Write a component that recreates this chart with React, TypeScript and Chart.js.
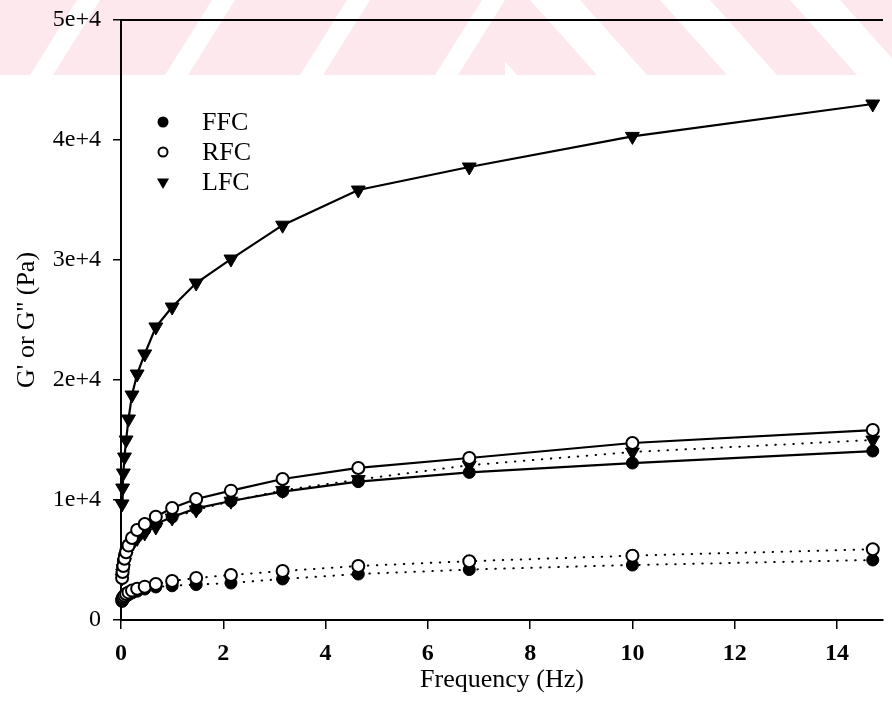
import React, { useEffect, useRef } from "react";
import { Chart, registerables } from "chart.js";

Chart.register(...registerables);

// Frequency sweep (Hz)
const freq = [0.0215, 0.0316, 0.0464, 0.0681, 0.1, 0.147, 0.215, 0.316, 0.464, 0.681, 1, 1.47, 2.15, 3.16, 4.64, 6.81, 10, 14.7];

// G' (storage modulus, solid lines)
const ffcG1 = [4000, 4400, 4900, 5400, 5900, 6300, 6650, 7000, 7500, 8000, 8580, 9300, 9920, 10700, 11530, 12300, 13080, 14080];
const rfcG1 = [3500, 4000, 4500, 5100, 5650, 6200, 6830, 7500, 8000, 8610, 9330, 10080, 10780, 11750, 12670, 13500, 14750, 15830];
const lfcG1 = [9670, 11000, 12250, 13580, 15000, 16750, 18750, 20500, 22170, 24420, 26080, 28080, 30080, 32900, 35830, 37750, 40300, 43000];

// G'' (loss modulus, dotted lines)
const ffcG2 = [1550, 1650, 1750, 1870, 1980, 2100, 2250, 2400, 2580, 2750, 2850, 2950, 3080, 3420, 3830, 4200, 4580, 5000];
const rfcG2 = [1650, 1780, 1900, 2030, 2170, 2300, 2450, 2600, 2780, 3000, 3250, 3500, 3750, 4080, 4500, 4900, 5360, 5900];
const lfcG2 = [3500, 3900, 4300, 4800, 5300, 5800, 6300, 6800, 7250, 7750, 8500, 9170, 9900, 10800, 11700, 12900, 14000, 15000];

const legendLabels = ["FFC", "RFC", "LFC"];
const xTickLabels = ["0", "2", "4", "6", "8", "10", "12", "14"];
const yTickLabels = ["0", "1e+4", "2e+4", "3e+4", "4e+4", "5e+4"];
const xTitle = "Frequency (Hz)";
const yTitle = "G' or G'' (Pa)";

const SERIF = "'Liberation Serif', 'Times New Roman', serif";

function pts(ys: number[]) {
  return freq.map((x, i) => ({ x, y: ys[i] }));
}

type Sample = "filled" | "open" | "tri";

function markerStyle(kind: Sample) {
  if (kind === "filled")
    return { pointStyle: "circle", pointRadius: 6, pointBackgroundColor: "#000", pointBorderColor: "#000", pointBorderWidth: 1, pointRotation: 0 };
  if (kind === "open")
    return { pointStyle: "circle", pointRadius: 6, pointBackgroundColor: "#fff", pointBorderColor: "#000", pointBorderWidth: 2, pointRotation: 0 };
  return { pointStyle: "triangle", pointRadius: 8, pointBackgroundColor: "#000", pointBorderColor: "#000", pointBorderWidth: 1, pointRotation: 180 };
}

function makeDs(label: string, ys: number[], kind: Sample, dotted: boolean) {
  return {
    label,
    data: pts(ys),
    borderColor: "#000",
    borderWidth: dotted ? 2 : 2.2,
    borderDash: dotted ? [0.5, 8.5] : [],
    borderCapStyle: dotted ? "round" : "butt",
    tension: 0,
    fill: false,
    clip: false,
    ...markerStyle(kind),
    pointHoverRadius: 6,
  };
}

function drawMarker(ctx: CanvasRenderingContext2D, kind: Sample, cx: number, cy: number) {
  ctx.beginPath();
  if (kind === "tri") {
    const r = 7;
    ctx.moveTo(cx - r * 0.866, cy - r * 0.5);
    ctx.lineTo(cx + r * 0.866, cy - r * 0.5);
    ctx.lineTo(cx, cy + r);
    ctx.closePath();
    ctx.fillStyle = "#000";
    ctx.fill();
  } else if (kind === "filled") {
    ctx.arc(cx, cy, 5.5, 0, Math.PI * 2);
    ctx.fillStyle = "#000";
    ctx.fill();
  } else {
    ctx.arc(cx, cy, 4.5, 0, Math.PI * 2);
    ctx.fillStyle = "#fff";
    ctx.fill();
    ctx.lineWidth = 2;
    ctx.strokeStyle = "#000";
    ctx.stroke();
  }
}

const stripePlugin = {
  id: "stripes",
  beforeDraw(chart: any) {
    const ctx = chart.ctx as CanvasRenderingContext2D;
    const h = 75;
    const split = 505;
    ctx.save();
    ctx.fillStyle = "#fde9ed";
    ctx.fillRect(0, 0, chart.width, h);
    ctx.fillStyle = "#ffffff";
    ctx.save();
    ctx.beginPath();
    ctx.rect(0, 0, split, h);
    ctx.clip();
    for (let k = -1; k < 5; k++) {
      const b = 30 + 135 * k;
      ctx.beginPath();
      ctx.moveTo(b, h);
      ctx.lineTo(b + 23, h);
      ctx.lineTo(b + 70, 0);
      ctx.lineTo(b + 47, 0);
      ctx.closePath();
      ctx.fill();
    }
    ctx.restore();
    ctx.save();
    ctx.beginPath();
    ctx.rect(split, 0, chart.width - split, h);
    ctx.clip();
    for (let k = -1; k < 5; k++) {
      const t = 530 + 130 * k;
      ctx.beginPath();
      ctx.moveTo(t, 0);
      ctx.lineTo(t + 50, 0);
      ctx.lineTo(t + 117, h);
      ctx.lineTo(t + 67, h);
      ctx.closePath();
      ctx.fill();
    }
    ctx.restore();
    ctx.restore();
  },
};

const framePlugin = {
  id: "frame",
  afterDraw(chart: any) {
    const ctx = chart.ctx as CanvasRenderingContext2D;
    const { left, right, top } = chart.chartArea;
    ctx.save();
    ctx.strokeStyle = "#000";
    ctx.lineWidth = 2;
    ctx.beginPath();
    ctx.moveTo(left, top);
    ctx.lineTo(right, top);
    ctx.stroke();
    // legend
    const kinds: Sample[] = ["filled", "open", "tri"];
    ctx.font = `26px ${SERIF}`;
    ctx.textBaseline = "middle";
    ctx.textAlign = "left";
    legendLabels.forEach((lab, i) => {
      const cy = top + 102 + i * 30;
      drawMarker(ctx, kinds[i], left + 42, cy);
      ctx.fillStyle = "#000";
      ctx.fillText(lab, left + 81, cy + 1);
    });
    ctx.restore();
  },
};

export default function App() {
  const ref = useRef<HTMLCanvasElement | null>(null);

  useEffect(() => {
    if (!ref.current) return;
    const chart = new Chart(ref.current, {
      type: "line",
      data: {
        datasets: [
          makeDs("RFC G'", rfcG1, "open", false),
          makeDs("RFC G''", rfcG2, "open", true),
          makeDs("LFC G''", lfcG2, "tri", true),
          makeDs("FFC G'", ffcG1, "filled", false),
          makeDs("FFC G''", ffcG2, "filled", true),
          makeDs("LFC G'", lfcG1, "tri", false),
        ] as any,
      },
      options: {
        responsive: false,
        animation: false,
        layout: { padding: { top: 20, right: 0, left: 0, bottom: 0 } },
        plugins: { legend: { display: false }, tooltip: { enabled: false } },
        scales: {
          x: {
            type: "linear",
            min: 0,
            max: 14.9,
            afterFit: (s: any) => {
              s.height = 104;
              s.paddingLeft = 0;
              s.paddingRight = 0;
            },
            ticks: {
              stepSize: 2,
              includeBounds: false,
              maxRotation: 0,
              autoSkip: false,
              padding: 10,
              color: "#000",
              font: { family: SERIF, size: 24, weight: "bold" },
              callback: (v: any) => xTickLabels[Math.round(Number(v) / 2)] ?? "",
            },
            grid: { display: true, drawOnChartArea: false, drawTicks: true, tickLength: 9, color: "#000", lineWidth: 1.5 },
            border: { display: true, color: "#000", width: 2 },
            title: {
              display: true,
              text: xTitle,
              color: "#000",
              font: { family: SERIF, size: 26 },
              padding: { top: 0, bottom: 28 },
            },
          },
          y: {
            type: "linear",
            min: 0,
            max: 50000,
            afterFit: (s: any) => {
              s.width = 121;
              s.paddingTop = 0;
              s.paddingBottom = 0;
            },
            ticks: {
              stepSize: 10000,
              padding: 12,
              color: "#000",
              font: { family: SERIF, size: 24 },
              callback: (v: any) => yTickLabels[Math.round(Number(v) / 10000)] ?? "",
            },
            grid: { display: true, drawOnChartArea: false, drawTicks: true, tickLength: 8, color: "#000", lineWidth: 1.5 },
            border: { display: true, color: "#000", width: 2 },
            title: {
              display: true,
              text: yTitle,
              color: "#000",
              font: { family: SERIF, size: 26 },
              padding: { top: 12, bottom: 0 },
            },
          },
        },
      } as any,
      plugins: [stripePlugin, framePlugin],
    });
    return () => chart.destroy();
  }, []);

  return (
    <div style={{ position: "absolute", left: 0, top: 0, width: 892, height: 724, background: "#fff" }}>
      <canvas ref={ref} width={892} height={724} style={{ display: "block", width: 892, height: 724 }} />
    </div>
  );
}
